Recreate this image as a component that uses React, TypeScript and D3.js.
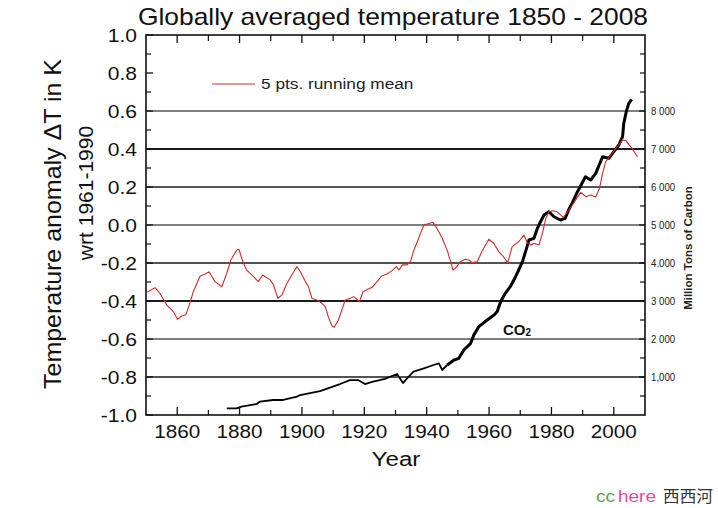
import React from "react";
import * as d3 from "d3";

// [year, temperature anomaly K] — 5 pts running mean
const tempSeries: [number, number][] = [
  [1850, -0.356], [1852.9, -0.33], [1854.5, -0.36], [1856.6, -0.42], [1858.8, -0.456],
  [1860.1, -0.496], [1861.5, -0.479], [1862.8, -0.472], [1864.1, -0.41], [1865.2, -0.35],
  [1867.3, -0.27], [1869.0, -0.258], [1870.2, -0.246], [1872.1, -0.298], [1874.3, -0.325],
  [1875.9, -0.254], [1877.2, -0.184], [1879.1, -0.132], [1879.8, -0.128], [1881.2, -0.2],
  [1882.3, -0.237], [1884.5, -0.272], [1886.0, -0.298], [1887.4, -0.263], [1889.8, -0.289],
  [1890.9, -0.316], [1892.3, -0.386], [1893.6, -0.368], [1895.2, -0.307], [1897.1, -0.254],
  [1898.4, -0.219], [1899.5, -0.246], [1901.1, -0.298], [1902.1, -0.325], [1903.2, -0.386],
  [1904.8, -0.395], [1906.4, -0.412], [1907.5, -0.43], [1908.6, -0.49], [1909.6, -0.53],
  [1910.3, -0.539], [1911.7, -0.5], [1912.8, -0.447], [1913.9, -0.395], [1915.5, -0.386],
  [1916.6, -0.377], [1917.6, -0.391], [1918.4, -0.404], [1919.6, -0.351], [1920.9, -0.339],
  [1922.5, -0.328], [1924.1, -0.298], [1925.6, -0.268], [1927.3, -0.258], [1928.9, -0.24],
  [1930.3, -0.219], [1931.1, -0.237], [1932.2, -0.21], [1933.7, -0.21], [1934.8, -0.193],
  [1935.9, -0.132], [1937.0, -0.088], [1938.0, -0.044], [1939.1, 0.0], [1940.2, 0.005],
  [1942.0, 0.014], [1943.3, -0.018], [1945.0, -0.07], [1946.6, -0.135], [1947.7, -0.193],
  [1948.4, -0.237], [1949.2, -0.228], [1950.8, -0.193], [1952.4, -0.18], [1953.5, -0.184],
  [1954.6, -0.198], [1956.2, -0.193], [1957.7, -0.14], [1959.9, -0.075], [1961.5, -0.096],
  [1963.1, -0.14], [1964.6, -0.167], [1966.0, -0.198], [1967.4, -0.114], [1969.5, -0.088],
  [1971.2, -0.053], [1972.3, -0.096], [1973.5, -0.105], [1974.4, -0.096], [1976.0, -0.105],
  [1977.1, -0.044], [1978.2, 0.035], [1979.2, 0.07], [1980.5, 0.075], [1981.8, 0.07],
  [1983.8, 0.04], [1985.8, 0.083], [1988.1, 0.14], [1989.4, 0.172], [1991.0, 0.149],
  [1992.6, 0.158], [1994.2, 0.147], [1995.4, 0.193], [1996.4, 0.272], [1997.4, 0.333],
  [1999.0, 0.368], [2001.1, 0.412], [2002.8, 0.447], [2003.9, 0.444], [2005.0, 0.42],
  [2006.2, 0.395], [2007.6, 0.358],
];

// [year, CO2 emissions, million tons of carbon]
const co2Series: [number, number][] = [
  [1875.9, 176], [1879.1, 176], [1880.6, 218], [1885.5, 290], [1886.5, 350],
  [1890.8, 395], [1894.0, 395], [1898.4, 482], [1899.4, 526], [1905.8, 630],
  [1912.2, 815], [1915.4, 920], [1918.0, 920], [1920.2, 815], [1922.5, 870],
  [1926.6, 950], [1930.5, 1080], [1932.4, 840], [1933.7, 965], [1935.8, 1140],
  [1939.1, 1228], [1942.2, 1316], [1943.9, 1360], [1945.0, 1184], [1946.6, 1316],
  [1948.75, 1447], [1950.3, 1491], [1951.9, 1710], [1954.1, 1886], [1955.1, 2105],
  [1956.7, 2325], [1959.4, 2500], [1961.6, 2631], [1962.6, 2720], [1963.7, 2982],
  [1965.2, 3202], [1966.8, 3377], [1968.5, 3640], [1969.5, 3816], [1970.7, 4035],
  [1971.7, 4298], [1972.8, 4605], [1974.4, 4650], [1975.5, 4913], [1976.5, 5087],
  [1977.6, 5263], [1979.2, 5350], [1980.8, 5218], [1982.9, 5131], [1984.4, 5175],
  [1985.5, 5394], [1986.6, 5570], [1988.1, 5834], [1989.8, 6097], [1990.9, 6270],
  [1992.6, 6184], [1994.2, 6360], [1995.3, 6580], [1996.4, 6797], [1998.4, 6755],
  [2000.0, 6930], [2001.6, 7105], [2002.8, 7324], [2003.2, 7676], [2004.0, 7982],
  [2004.8, 8200], [2005.7, 8307],
];

const yTicks = [1.0, 0.8, 0.6, 0.4, 0.2, 0.0, -0.2, -0.4, -0.6, -0.8, -1.0];
const yTickLabels = ["1.0", "0.8", "0.6", "0.4", "0.2", "0.0", "-0.2", "-0.4", "-0.6", "-0.8", "-1.0"];
const yMinorTicks = [0.9, 0.7, 0.5, 0.3, 0.1, -0.1, -0.3, -0.5, -0.7, -0.9];
const gridValues = [0.6, 0.4, 0.2, 0.0, -0.2, -0.4, -0.6, -0.8];
const xTicks = [1860, 1880, 1900, 1920, 1940, 1960, 1980, 2000];
const xMinorTicks = [1870, 1890, 1910, 1930, 1950, 1970, 1990];
const carbonTicks = [8000, 7000, 6000, 5000, 4000, 3000, 2000, 1000];
const carbonLabels = ["8 000", "7 000", "6 000", "5 000", "4.000", "3 000", "2 000", "1,000"];
const carbonMinorTicks = [9500, 9000, 8500, 7500, 6500, 5500, 4500, 3500, 2500, 1500, 500];

const FONT = "'Liberation Sans', Arial, sans-serif";

function T(props: {
  x: number; y: number; size: number; anchor?: string; sx?: number; rotate?: number;
  weight?: string; fill?: string; children: React.ReactNode; textLength?: number;
}) {
  const { x, y, size, anchor = "start", sx = 1, rotate = 0, weight = "normal", fill = "#111", children, textLength } = props;
  return (
    <text
      transform={`translate(${x},${y}) rotate(${rotate}) scale(${sx},1)`}
      fontSize={size}
      fontFamily={FONT}
      fontWeight={weight}
      textAnchor={anchor}
      fill={fill}
      textLength={textLength}
      lengthAdjust={textLength ? "spacingAndGlyphs" : undefined}
    >
      {children}
    </text>
  );
}

export default function App() {
  const W = 718, H = 508;
  const x = d3.scaleLinear().domain([1850, 2010]).range([146, 645]);
  const y = d3.scaleLinear().domain([-1, 1]).range([415, 35]);
  const yC = d3.scaleLinear().domain([0, 10000]).range([415, 35]);
  const [x0, x1] = x.range();
  const [yb, yt] = y.range();

  const tempLine = d3.line<[number, number]>().x(d => x(d[0])).y(d => y(d[1]));
  const co2Line = d3.line<[number, number]>().x(d => x(d[0])).y(d => yC(d[1]));
  const co2Early = co2Series.filter(d => d[0] <= 1946.6);
  const co2Late = co2Series.filter(d => d[0] >= 1946.6);

  return (
    <svg width={W} height={H} style={{ position: "absolute", left: 0, top: 0, display: "block", background: "#fff" }}>
      <rect x={0} y={0} width={W} height={H} fill="#fff" />
      {/* gridlines */}
      {gridValues.map((v, i) => (
        <line key={"g" + i} x1={x0} x2={x1} y1={y(v)} y2={y(v)}
          stroke={v === 0 || v === 0.6 || v === -0.6 ? "#555" : "#1a1a1a"}
          strokeWidth={v === 0.4 || v === -0.4 ? 2 : 1.5} />
      ))}
      {/* left ticks */}
      {yTicks.map((v, i) => (
        <line key={"yt" + i} x1={x0} x2={x0 + 7} y1={y(v)} y2={y(v)} stroke="#111" strokeWidth={1.3} />
      ))}
      {yMinorTicks.map((v, i) => (
        <line key={"ym" + i} x1={x0} x2={x0 + 5} y1={y(v)} y2={y(v)} stroke="#111" strokeWidth={1.2} />
      ))}
      {/* right ticks */}
      {carbonTicks.map((v, i) => (
        <line key={"ct" + i} x1={x1 - 6} x2={x1} y1={yC(v)} y2={yC(v)} stroke="#111" strokeWidth={1.3} />
      ))}
      {carbonMinorTicks.map((v, i) => (
        <line key={"cm" + i} x1={x1 - 5} x2={x1} y1={yC(v)} y2={yC(v)} stroke="#111" strokeWidth={1.2} />
      ))}
      {/* top / bottom ticks */}
      {xTicks.map((v, i) => (
        <g key={"xt" + i}>
          <line x1={x(v)} x2={x(v)} y1={yb} y2={yb - 8} stroke="#111" strokeWidth={1.3} />
          <line x1={x(v)} x2={x(v)} y1={yt} y2={yt + 8} stroke="#111" strokeWidth={1.3} />
        </g>
      ))}
      {xMinorTicks.map((v, i) => (
        <g key={"xm" + i}>
          <line x1={x(v)} x2={x(v)} y1={yb} y2={yb - 5} stroke="#111" strokeWidth={1.2} />
          <line x1={x(v)} x2={x(v)} y1={yt} y2={yt + 6} stroke="#111" strokeWidth={1.2} />
        </g>
      ))}

      {/* data */}
      <path d={co2Line(co2Early) || ""} fill="none" stroke="#000" strokeWidth={1.8} strokeLinejoin="round" />
      <path d={co2Line(co2Late) || ""} fill="none" stroke="#000" strokeWidth={3} strokeLinejoin="round" />
      <path d={tempLine(tempSeries) || ""} fill="none" stroke="#d42a2a" strokeWidth={1.1} strokeLinejoin="round" />

      {/* frame */}
      <rect x={x0} y={yt} width={x1 - x0} height={yb - yt} fill="none" stroke="#111" strokeWidth={1.6} />

      {/* title */}
      <T x={138} y={25} size={24} textLength={510}>Globally averaged temperature 1850 - 2008</T>

      {/* left tick labels */}
      {yTicks.map((v, i) => (
        <T key={"yl" + i} x={137} y={y(v) + 6.5} size={18} anchor="end" sx={1.17}>{yTickLabels[i]}</T>
      ))}
      {/* bottom tick labels */}
      {xTicks.map((v, i) => (
        <T key={"xl" + i} x={x(v)} y={438} size={18} anchor="middle" sx={1.15}>{String(v)}</T>
      ))}
      {/* right tick labels */}
      {carbonTicks.map((v, i) => (
        <T key={"cl" + i} x={651} y={yC(v) + 4} size={11} sx={0.88} fill="#222">{carbonLabels[i]}</T>
      ))}

      {/* axis titles */}
      <T x={396} y={466} size={21} anchor="middle" sx={1.15}>Year</T>
      <T x={61} y={224} size={24} anchor="middle" rotate={-90} textLength={330}>Temperature anomaly ΔT in K</T>
      <T x={93} y={193} size={21} anchor="middle" rotate={-90}>wrt 1961-1990</T>
      <T x={692} y={248} size={11.5} anchor="middle" rotate={-90} weight="bold" fill="#222">Million Tons of Carbon</T>

      {/* legend */}
      <line x1={212} x2={255} y1={84} y2={84} stroke="#d42a2a" strokeWidth={1.2} />
      <T x={261} y={89} size={15} sx={1.15} fill="#222">5 pts. running mean</T>

      {/* CO2 label */}
      <text x={503} y={335} fontFamily={FONT} fontWeight="bold" fontSize={15} fill="#111">
        CO<tspan fontSize={10} dy={1}>2</tspan>
      </text>

      {/* watermark */}
      <text x={596} y={502} fontFamily={FONT} fontSize={17} fill="#5e9e4e" textLength={19} lengthAdjust="spacingAndGlyphs">cc</text>
      <text x={618} y={502} fontFamily={FONT} fontSize={17} fill="#e34a9a" textLength={38} lengthAdjust="spacingAndGlyphs">here</text>
      <text x={663} y={502} fontFamily="'Noto Sans CJK SC', sans-serif" fontSize={16} fill="#333" textLength={50} lengthAdjust="spacingAndGlyphs">西西河</text>
    </svg>
  );
}
